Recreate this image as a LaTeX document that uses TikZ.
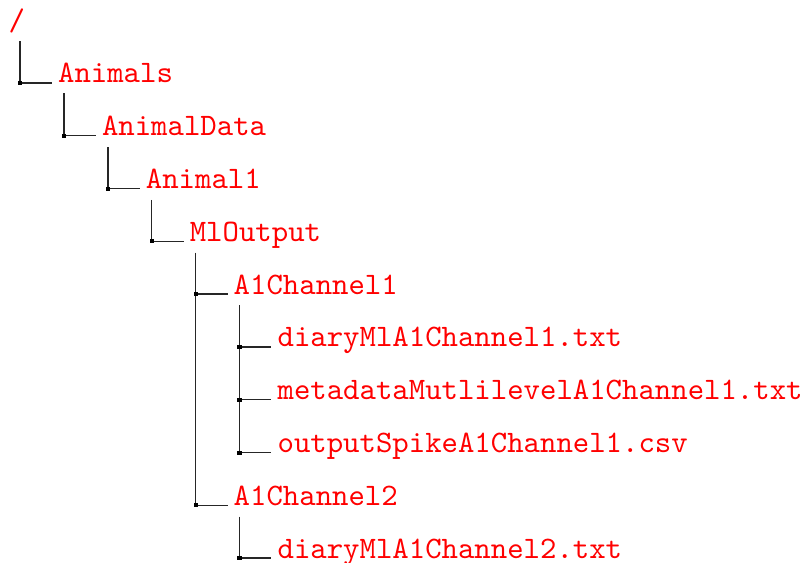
\documentclass[tikz,border=0pt]{standalone}
\begin{document}
\begin{tikzpicture}[x=0.32pt,y=-0.32pt,
  lbl/.style={anchor=base west,inner sep=0pt,text=red,font=\ttfamily},
  conn/.style={draw=black!85,line width=0.45pt},
  junc/.style={fill=black,inner sep=0pt,minimum size=1.3pt,rectangle,draw=none}]
\useasboundingbox (0,0) rectangle (803,563);
% junction points
\coordinate (jAnimals)    at (20,83);
\coordinate (jAnimalData) at (63.9,135.8);
\coordinate (jAnimal1)    at (107.8,188.6);
\coordinate (jMlOutput)   at (151.7,241.4);
\coordinate (jChA)        at (195.6,294.2);
\coordinate (jDiaryA)     at (239.5,347);
\coordinate (jMeta)       at (239.5,399.8);
\coordinate (jOut)        at (239.5,452.6);
\coordinate (jChB)        at (195.6,505.4);
\coordinate (jDiaryB)     at (239.5,558.2);
% labels
\node[lbl] (root) at (8,30.2) {/};
\node[lbl] (Animals)    at ([xshift=37.5*0.32pt]jAnimals)    {Animals};
\node[lbl] (AnimalData) at ([xshift=37.5*0.32pt]jAnimalData) {AnimalData};
\node[lbl] (Animal1)    at ([xshift=37.5*0.32pt]jAnimal1)    {Animal1};
\node[lbl] (MlOutput)   at ([xshift=37.5*0.32pt]jMlOutput)   {MlOutput};
\node[lbl] (ChA)        at ([xshift=37.5*0.32pt]jChA)        {A1Channel1};
\node[lbl] (DiaryA)     at ([xshift=37.5*0.32pt]jDiaryA)     {diaryMlA1Channel1.txt};
\node[lbl] (Meta)       at ([xshift=37.5*0.32pt]jMeta)       {metadataMutlilevelA1Channel1.txt};
\node[lbl] (Out)        at ([xshift=37.5*0.32pt]jOut)        {outputSpikeA1Channel1.csv};
\node[lbl] (ChB)        at ([xshift=37.5*0.32pt]jChB)        {A1Channel2};
\node[lbl] (DiaryB)     at ([xshift=37.5*0.32pt]jDiaryB)     {diaryMlA1Channel2.txt};
% connectors
\draw[conn] ([yshift=-3.6pt]root.base -| jAnimals) -- (jAnimals) -- ++(32,0);
\draw[conn] ([yshift=-3.3pt]Animals.base -| jAnimalData) -- (jAnimalData) -- ++(32,0);
\draw[conn] ([yshift=-3.6pt]AnimalData.base -| jAnimal1) -- (jAnimal1) -- ++(32,0);
\draw[conn] ([yshift=-3.6pt]Animal1.base -| jMlOutput) -- (jMlOutput) -- ++(32,0);
\draw[conn] ([yshift=-3.6pt]MlOutput.base -| jChA) -- (jChA) -- ++(32,0);
\draw[conn] ([yshift=-3.6pt]ChA.base -| jDiaryA) -- (jDiaryA) -- ++(32,0);
\draw[conn] (jDiaryA) -- (jMeta) -- ++(32,0);
\draw[conn] (jMeta) -- (jOut) -- ++(32,0);
\draw[conn] (jChA) -- (jChB) -- ++(32,0);
\draw[conn] ([yshift=-3.6pt]ChB.base -| jDiaryB) -- (jDiaryB) -- ++(32,0);
% junction squares
\foreach \j in {jAnimals,jAnimalData,jAnimal1,jMlOutput,jChA,jDiaryA,jMeta,jOut,jChB,jDiaryB}
  \node[junc] at (\j) {};
\end{tikzpicture}
\end{document}
